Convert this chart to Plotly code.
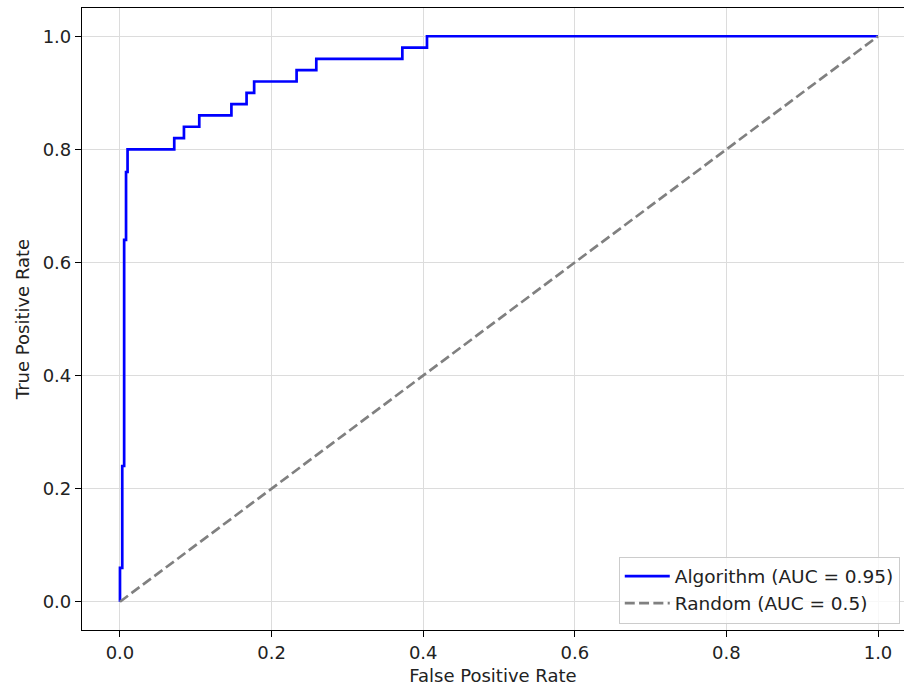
import plotly.graph_objects as go

# ROC vertices (vertical-then-horizontal steps)
fpr = [0.0, 0.003, 0.0055, 0.008, 0.010, 0.0716, 0.0844, 0.1046, 0.147, 0.167,
       0.177, 0.233, 0.259, 0.3725, 0.405, 1.0]
tpr = [0.0, 0.06, 0.24, 0.64, 0.76, 0.80, 0.82, 0.84, 0.86, 0.88,
       0.90, 0.92, 0.94, 0.96, 0.98, 1.0]
random_x = [0.0, 1.0]
random_y = [0.0, 1.0]
tick_vals = [0.0, 0.2, 0.4, 0.6, 0.8, 1.0]

FONT = "DejaVu Sans"

fig = go.Figure()
fig.add_trace(go.Scatter(
    x=fpr, y=tpr, mode="lines", line_shape="vh",
    line=dict(color="#0000ff", width=2.7),
    name="Algorithm (AUC = 0.95)"))
fig.add_trace(go.Scatter(
    x=random_x, y=random_y, mode="lines",
    line=dict(color="#808080", width=2.7, dash="10px,4.3px"),
    name="Random (AUC = 0.5)"))

axis_common = dict(
    showgrid=True, gridcolor="#dcdcdc", gridwidth=1,
    zeroline=False, showline=True, linecolor="black", linewidth=1.2,
    ticks="outside", ticklen=6, tickwidth=1.2, tickcolor="black",
    tickvals=tick_vals, tickformat=".1f",
    tickfont=dict(family=FONT, size=18, color="#222222"),
)

fig.update_layout(
    width=904, height=689,
    margin=dict(l=82, r=0, t=8, b=59),
    plot_bgcolor="white", paper_bgcolor="white",
    font=dict(family=FONT, size=18, color="#222222"),
    xaxis=dict(range=[-0.0501, 1.0343], mirror=True,
               title=dict(text="False Positive Rate", standoff=7,
                          font=dict(family=FONT, size=18)),
               **axis_common),
    yaxis=dict(range=[-0.05, 1.05],
               title=dict(text="True Positive Rate", standoff=8,
                          font=dict(family=FONT, size=18)),
               **axis_common),
    legend=dict(x=0.653, y=0.118, xanchor="left", yanchor="top",
                itemwidth=45,
                bgcolor="rgba(255,255,255,0.8)", bordercolor="#cccccc",
                borderwidth=1, font=dict(family=FONT, size=18.5, color="#222222")),
    showlegend=True,
)

fig.write_html("out.html")
